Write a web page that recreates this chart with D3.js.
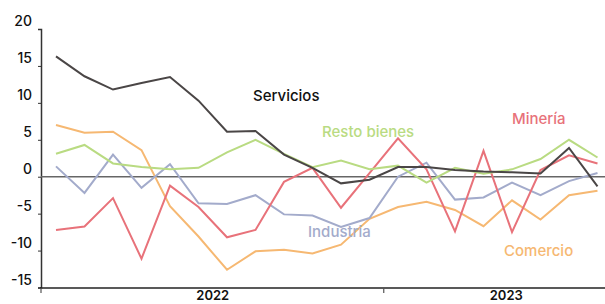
<!DOCTYPE html>
<html><head><meta charset="utf-8">
<script src="https://cdn.jsdelivr.net/npm/d3@7"></script>
<style>body{margin:0;background:#fff}svg{display:block}text{font-family:Inter,"Open Sans",sans-serif}</style>
</head><body><svg id="c" width="605" height="304"></svg>
<script>
const months = d3.range(20); // Jan 2022 .. Aug 2023
const years = ["2022","2023"];
const yTicks = [20,15,10,5,0,-5,-10,-15];
const servicios = [16.3,13.6,11.8,12.7,13.5,10.3,6.1,6.2,3.0,1.2,-0.9,-0.4,1.3,1.3,0.9,0.7,0.6,0.45,3.9,-1.3];
const restoBienes = [3.1,4.3,1.8,1.3,1.0,1.2,3.3,5.0,3.1,1.3,2.2,1.0,1.5,-0.8,1.2,0.4,1.0,2.4,5.0,2.6];
const industria = [1.4,-2.2,3.0,-1.5,1.7,-3.6,-3.7,-2.5,-5.1,-5.25,-6.8,-5.6,0.0,1.9,-3.1,-2.8,-0.8,-2.5,-0.6,0.5];
const mineria = [-7.2,-6.75,-2.9,-11.1,-1.2,-4.1,-8.2,-7.2,-0.7,1.2,-4.2,0.5,5.2,1.0,-7.4,3.5,-7.5,0.9,2.9,1.8];
const comercio = [7.0,5.95,6.1,3.6,-4.0,-8.1,-12.6,-10.1,-9.9,-10.4,-9.2,-5.7,-4.1,-3.4,-4.5,-6.7,-3.2,-5.8,-2.5,-1.9];
const seriesNames = ["Comercio","Industria","Minería","Resto bienes","Servicios"];
const seriesData = [comercio,industria,mineria,restoBienes,servicios];
const colors = ["#f6b872","#a3abcb","#e8727a","#b9db82","#4a4646"];
const labelPos = [[504,256],[308,237],[512,124],[322,137],[253,101]];

const svg = d3.select("#c");
const x = d3.scaleLinear().domain([0,19]).range([56,597.5]);
const y = d3.scaleLinear().domain([-15,20]).range([287.5,29]);

// y axis
const yAxis = svg.append("g").attr("transform","translate(41,0)")
  .call(d3.axisLeft(y).tickValues(yTicks).tickSize(3).tickFormat(d3.format("d")));
yAxis.select(".domain").attr("stroke","#333").attr("stroke-width",1.5);
yAxis.selectAll(".tick line").attr("stroke","#333");
yAxis.selectAll(".tick text").attr("font-size",14).attr("font-weight",500).attr("fill","#111")
  .attr("dy",null).attr("y",-3.5).attr("x",-9).attr("dominant-baseline","auto")
  .text(d=>d<0?"-"+Math.abs(d):d);

// x axis (bottom)
const xb = y(-15)+0.5;
svg.append("line").attr("x1",40).attr("x2",605).attr("y1",xb).attr("y2",xb).attr("stroke","#222").attr("stroke-width",1.5);
[-0.5,11.5].forEach(v=>{
  const px = v<0?41:x(v);
  svg.append("line").attr("x1",px).attr("x2",px).attr("y1",xb).attr("y2",xb+5).attr("stroke","#555").attr("stroke-width",1.2);
});
const yearCenters = [x(5.5), x(15.8)];
svg.selectAll(".yr").data(years).join("text").attr("x",(d,i)=>yearCenters[i]).attr("y",300)
  .attr("text-anchor","middle").attr("font-size",13).attr("font-weight",600).attr("fill","#111").text(d=>d);

// zero line
svg.append("line").attr("x1",41).attr("x2",605).attr("y1",y(0)).attr("y2",y(0)).attr("stroke","#666").attr("stroke-width",1.5);

const line = d3.line().x((d,i)=>x(months[i])).y(d=>y(d));
svg.selectAll(".s").data(seriesData).join("path")
  .attr("d",d=>line(d)).attr("fill","none").attr("stroke",(d,i)=>colors[i]).attr("stroke-width",2);

svg.selectAll(".lbl").data(seriesNames).join("text")
  .attr("x",(d,i)=>labelPos[i][0]).attr("y",(d,i)=>labelPos[i][1])
  .attr("font-size",15).attr("font-weight",500).attr("fill",(d,i)=>i===4?"#111":colors[i]).text(d=>d);
</script></body></html>
